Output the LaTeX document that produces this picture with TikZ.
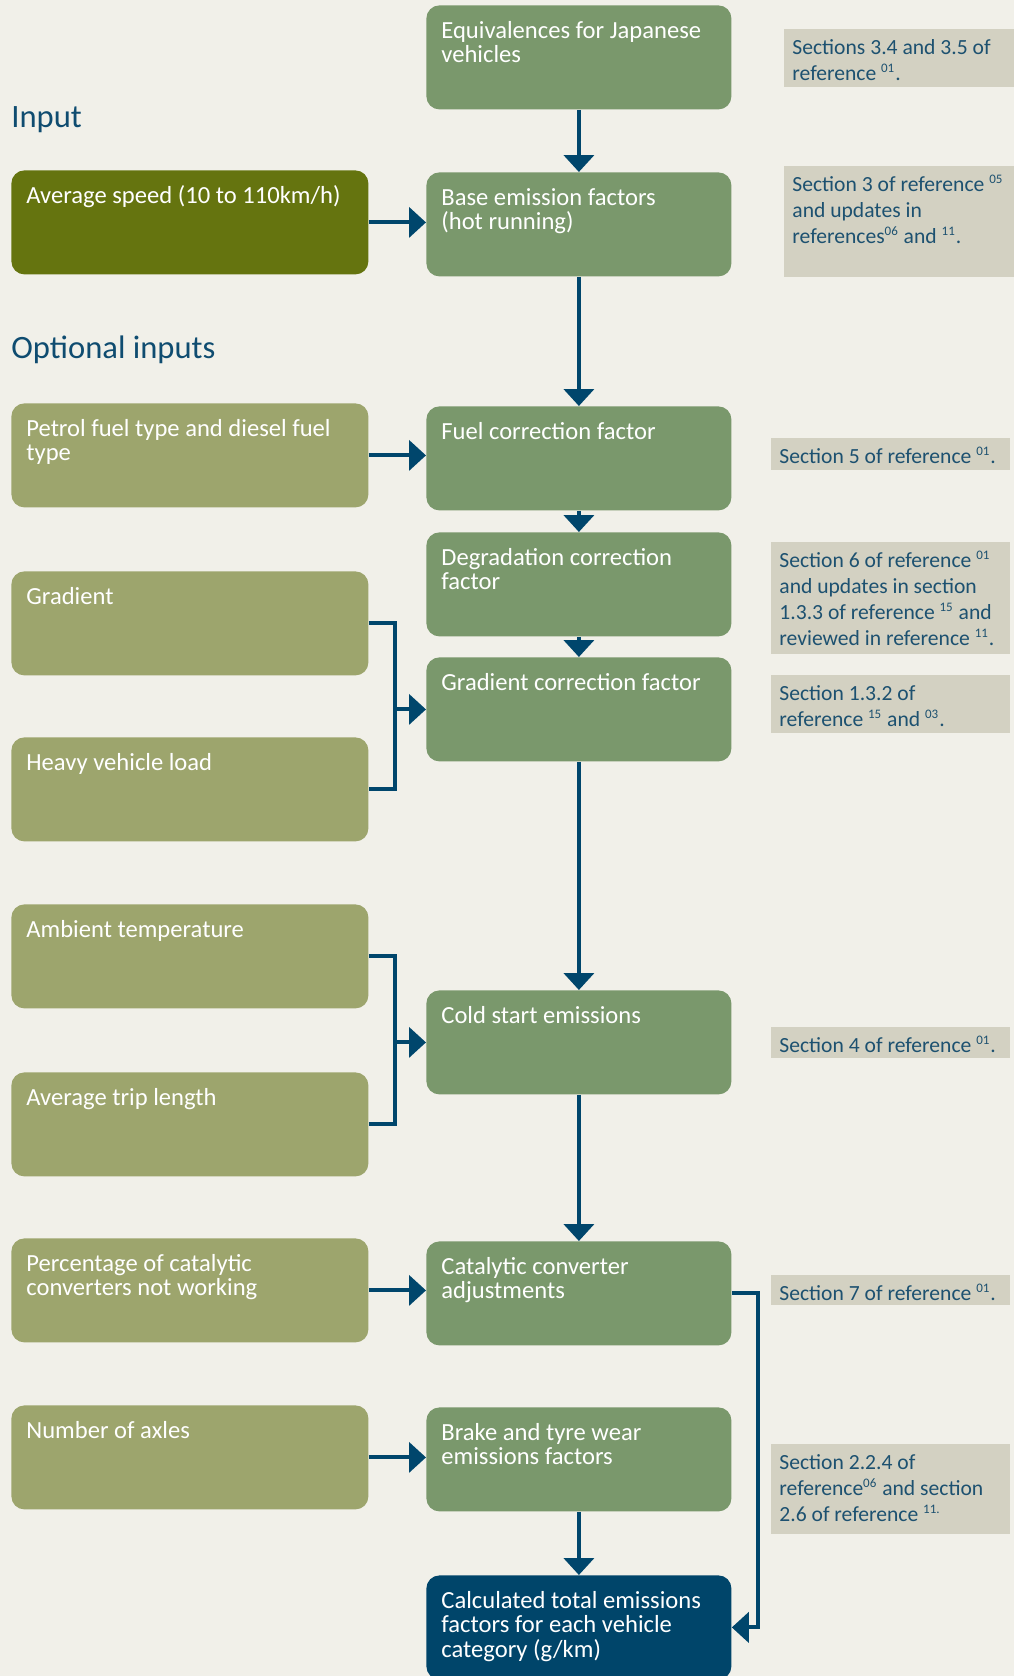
\documentclass[tikz,border=0pt]{standalone}
\usepackage{fontspec}
\setmainfont{Carlito}
\usetikzlibrary{arrows.meta}

\definecolor{paper}{HTML}{F1F0E9}
\definecolor{stagegreen}{HTML}{7A986C}
\definecolor{inputolive}{HTML}{65740F}
\definecolor{optiongreen}{HTML}{9DA56D}
\definecolor{resultblue}{HTML}{00456A}
\definecolor{notegrey}{HTML}{D3D1C2}
\definecolor{notetext}{HTML}{1D5170}
\definecolor{headblue}{HTML}{0F4C70}
\definecolor{linkblue}{HTML}{00466C}

\newcommand{\boxtext}[2]{\makebox[#1][l]{\parbox[c][52pt][t]{250pt}{\raggedright\rule{0pt}{16.5pt}#2}}}
\newcommand{\notetext}[3]{\makebox[#1][l]{\parbox[c][#2][t]{200pt}{\raggedright\rule{0pt}{12.3pt}#3}}}
\newcommand{\refno}[1]{\textsuperscript{\fontsize{6.5}{7}\selectfont #1}}

\begin{document}
\begin{tikzpicture}[x=0.5pt, y=-0.5pt,
    stage/.style={fill=stagegreen, text=white, rounded corners=6.5pt, anchor=north west,
      inner xsep=7.5pt, inner ysep=0pt, font=\fontsize{12.3}{12.2}\selectfont},
    input/.style={stage, fill=inputolive},
    option/.style={stage, fill=optiongreen},
    result/.style={stage, fill=resultblue},
    source/.style={fill=notegrey, text=notetext, anchor=north west,
      inner xsep=4pt, inner ysep=0pt, font=\fontsize{10.8}{13}\selectfont},
    heading/.style={anchor=base west, inner sep=0pt, text=headblue, font=\fontsize{16.3}{18}\selectfont},
    link/.style={line width=2pt, draw=linkblue},
    arrow/.style={link, -{Triangle[length=8.5pt, width=15pt]}}]
   \fill[paper] (0,0) rectangle (1014,1676);
   \useasboundingbox (0,0) rectangle (1014,1676);

   % headings
   \node[heading] (inputhead) at (11,127) {Input};
   \node[heading] (opthead)   at (11,358) {Optional inputs};

   % main chain
   \node[stage]  (eqv)   at (426,5)    {\boxtext{137.5pt}{Equivalences for Japanese\\vehicles}};
   \node[stage]  (base)  at (426,172)  {\boxtext{137.5pt}{Base emission factors\\(hot running)}};
   \node[stage]  (fuel)  at (426,406)  {\boxtext{137.5pt}{Fuel correction factor}};
   \node[stage]  (degr)  at (426,532)  {\boxtext{137.5pt}{Degradation correction\\factor}};
   \node[stage]  (gcf)   at (426,657)  {\boxtext{137.5pt}{Gradient correction factor}};
   \node[stage]  (cold)  at (426,990)  {\boxtext{137.5pt}{Cold start emissions}};
   \node[stage]  (cat)   at (426,1241) {\boxtext{137.5pt}{Catalytic converter\\adjustments}};
   \node[stage]  (brake) at (426,1407) {\boxtext{137.5pt}{Brake and tyre wear\\emissions factors}};
   \node[result] (calc)  at (426,1575) {\boxtext{137.5pt}{Calculated total emissions\\factors for each vehicle\\category (g/km)}};

   % inputs
   \node[input]  (speed)    at (11,170)  {\boxtext{163.5pt}{Average speed (10 to 110km/h)}};
   \node[option] (fueltype) at (11,403)  {\boxtext{163.5pt}{Petrol fuel type and diesel fuel\\type}};
   \node[option] (grad)     at (11,571)  {\boxtext{163.5pt}{Gradient}};
   \node[option] (load)     at (11,737)  {\boxtext{163.5pt}{Heavy vehicle load}};
   \node[option] (ambient)  at (11,904)  {\boxtext{163.5pt}{Ambient temperature}};
   \node[option] (trip)     at (11,1072) {\boxtext{163.5pt}{Average trip length}};
   \node[option] (catpct)   at (11,1238) {\boxtext{163.5pt}{Percentage of catalytic\\converters not working}};
   \node[option] (axles)    at (11,1405) {\boxtext{163.5pt}{Number of axles}};

   % sources
   \node[source] (src1) at (784,29)   {\notetext{107pt}{29pt}{Sections 3.4 and 3.5 of\\reference \refno{01}.}};
   \node[source] (src2) at (784,166)  {\notetext{107pt}{55.5pt}{Section 3 of reference \refno{05}\\and updates in\\references\refno{06} and \refno{11}.}};
   \node[source] (src3) at (771,438)  {\notetext{111.5pt}{16pt}{Section 5 of reference \refno{01}.}};
   \node[source] (src4) at (771,542)  {\notetext{111.5pt}{56pt}{Section 6 of reference \refno{01}\\and updates in section\\1.3.3 of reference \refno{15} and\\reviewed in reference \refno{11}.}};
   \node[source] (src5) at (771,675)  {\notetext{111.5pt}{29pt}{Section 1.3.2 of\\reference \refno{15} and \refno{03}.}};
   \node[source] (src6) at (771,1027) {\notetext{111.5pt}{15.5pt}{Section 4 of reference \refno{01}.}};
   \node[source] (src7) at (771,1275) {\notetext{111.5pt}{15pt}{Section 7 of reference \refno{01}.}};
   \node[source] (src8) at (771,1444) {\notetext{111.5pt}{45pt}{Section 2.2.4 of\\reference\refno{06} and section\\2.6 of reference \refno{11.}}};

   % connectors
   \draw[arrow] (eqv) -- (base);
   \draw[arrow] (speed.east) -- (speed.east -| base.west);
   \draw[arrow] (base) -- (fuel);
   \draw[arrow] (fueltype.east) -- (fueltype.east -| fuel.west);
   \draw[arrow] (fuel) -- (degr);
   \draw[arrow] (degr) -- (gcf);
   \path (gcf.west) ++(-31,0) coordinate (gjoin);
   \draw[link] (grad.east) -| (gjoin) |- (load.east);
   \draw[arrow] (gjoin) -- (gcf.west);
   \draw[arrow] (gcf) -- (cold);
   \path (cold.west) ++(-31,0) coordinate (cjoin);
   \draw[link] (ambient.east) -| (cjoin) |- (trip.east);
   \draw[arrow] (cjoin) -- (cold.west);
   \draw[arrow] (cold) -- (cat);
   \draw[arrow] (catpct.east) -- (catpct.east -| cat.west);
   \draw[arrow] (axles.east) -- (axles.east -| brake.west);
   \draw[arrow] (brake) -- (calc);
   \draw[arrow] (cat.east) -- ++(26,0) |- (calc.east);
\end{tikzpicture}
\end{document}
